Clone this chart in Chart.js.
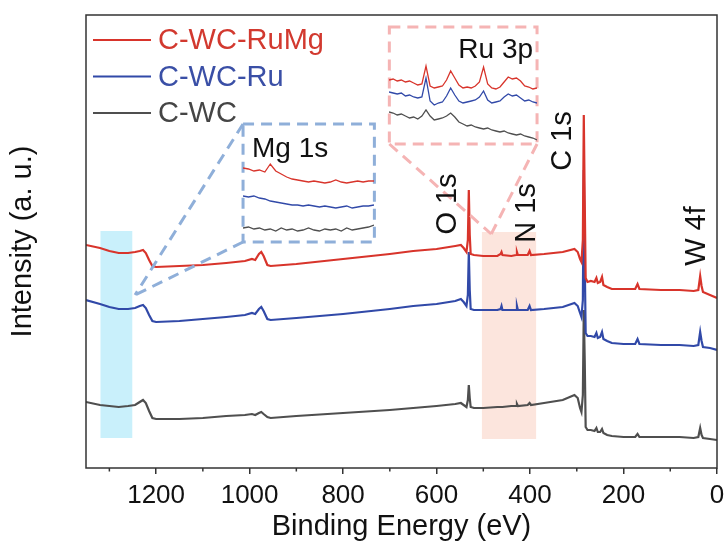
<!DOCTYPE html>
<html>
<head>
<meta charset="utf-8">
<script src="https://cdn.jsdelivr.net/npm/chart.js@4.4.1/dist/chart.umd.min.js"></script>
<style>
  body { margin: 0; background: #fff; }
  #wrap { position: relative; width: 726px; height: 543px; }
  #wrap canvas { position: absolute; left: 0; top: 0; }
</style>
</head>
<body>
<div id="wrap">
  <canvas id="survey" width="726" height="543"></canvas>
  <canvas id="mgInset"></canvas>
  <canvas id="ruInset"></canvas>
</div>
<script>
// XPS survey spectra, binding energy (eV) vs intensity (a.u., stacked)
const energy = [1350, 1320, 1300, 1280, 1260, 1245, 1235, 1228, 1222, 1215,
  1208, 1200, 1150, 1100, 1050, 1010, 995, 988, 980, 975,
  970, 962, 955, 900, 800, 700, 650, 600, 560, 548,
  542, 536, 533, 531, 529, 527, 520, 500, 470, 463,
  461, 459, 440, 430, 428, 426, 405, 401, 398, 370,
  330, 305, 298, 293, 290, 287, 285, 283, 281, 277,
  270, 262, 258, 255, 250, 246, 243, 235, 225, 200,
  175, 170, 166, 120, 80, 50, 40, 36, 33, 30,
  15, 0];

const cwcRuMg = [223, 220, 217, 215, 215, 216, 217, 218, 215, 208,
  202, 201, 202, 203, 205, 207, 209, 208, 214, 216,
  212, 203, 202, 204, 209, 214, 217, 219, 222, 223,
  220, 216, 228, 278, 233, 214, 213, 212, 212, 214,
  216, 213, 212, 213, 216, 213, 213, 217, 213, 214,
  216, 219, 216, 209, 206, 228, 353, 268, 190, 186,
  187, 186, 190, 185, 186, 191, 183, 181, 179, 179,
  179, 184, 179, 178, 178, 177, 178, 192, 182, 176,
  173, 170];

const cwcRu = [168, 164, 161, 159, 159, 160, 162, 163, 160, 153,
  147, 146, 147, 149, 151, 153, 155, 154, 159, 161,
  157, 149, 148, 150, 154, 159, 162, 164, 167, 169,
  166, 162, 173, 216, 178, 159, 158, 158, 158, 159,
  162, 158, 158, 158, 162, 158, 158, 162, 158, 159,
  161, 165, 162, 155, 151, 168, 298, 208, 135, 132,
  132, 131, 135, 130, 131, 136, 129, 127, 125, 124,
  124, 129, 124, 123, 123, 122, 123, 136, 127, 121,
  120, 118];

const cwc = [66, 63, 62, 61, 62, 63, 66, 68, 65, 57,
  50, 49, 49, 50, 52, 53, 54, 53, 55, 56,
  54, 51, 50, 52, 55, 58, 60, 62, 64, 65,
  63, 61, 68, 83, 70, 61, 60, 60, 61, 61,
  61, 61, 62, 62, 64, 62, 63, 65, 63, 65,
  68, 73, 70, 60, 56, 73, 158, 108, 41, 38,
  38, 37, 40, 36, 36, 39, 35, 33, 32, 31,
  31, 34, 31, 31, 31, 30, 31, 40, 33, 30,
  29, 28];

// Mg 1s detail scan
const mgEnergy = [1312, 1310, 1308, 1306, 1304, 1302, 1300, 1298, 1296, 1294,
  1292, 1290, 1288, 1286, 1284, 1282, 1280, 1278, 1276, 1274,
  1272, 1270, 1268, 1266, 1264];
const mgRuMg = [74, 73, 71, 72, 70, 78, 71, 68, 65, 63, 62, 61, 60, 61, 60, 59, 60, 62, 60, 59, 60, 61, 60, 61, 61];
const mgRu = [46, 45, 46, 44, 43, 41, 40, 39, 38, 37, 37, 36, 37, 36, 35, 36, 35, 34, 35, 36, 34, 35, 36, 36, 37];
const mgWc = [14, 15, 13, 14, 12, 13, 11, 14, 12, 13, 11, 12, 14, 12, 11, 13, 12, 13, 11, 14, 12, 13, 14, 15, 17];

// Ru 3p detail scan
const ruEnergy = [500, 497, 494, 491, 488, 485, 482, 479, 476, 473,
  470, 467, 464, 461, 458, 455, 452, 449, 446, 443,
  440, 437, 434, 431, 428, 425, 422, 419, 416, 413,
  410, 407, 404, 401, 398, 395, 392];
const ruRuMg = [64, 65, 63, 64, 62, 63, 61, 59, 60, 78, 58, 56, 57, 58, 64, 73, 66, 59, 56, 57,
  56, 58, 62, 77, 60, 56, 55, 57, 62, 67, 65, 66, 63, 58, 57, 55, 56];
const ruRu = [52, 51, 50, 51, 48, 49, 47, 46, 47, 66, 43, 39, 41, 42, 48, 56, 49, 43, 41, 42,
  43, 44, 47, 53, 44, 41, 42, 43, 47, 50, 48, 49, 46, 43, 44, 42, 41];
const ruWc = [32, 31, 29, 30, 28, 26, 27, 25, 28, 34, 28, 24, 25, 26, 28, 31, 27, 22, 20, 18,
  19, 17, 16, 15, 16, 14, 13, 12, 13, 11, 10, 9, 10, 8, 7, 6, 4];

const seriesNames = ['C-WC-RuMg', 'C-WC-Ru', 'C-WC'];
const colors = ['#d8342b', '#3149a8', '#4f4f4f'];
const textColors = ['#d2392f', '#3a4fa6', '#454545'];

const peakLabels = [
  { text: 'O 1s', x: 575, y: 264 },
  { text: 'N 1s', x: 406, y: 255 },
  { text: 'C 1s', x: 329, y: 327 },
  { text: 'W 4f', x: 43, y: 232 }
];

const bands = [
  { from: 1319, to: 1251, low: 30, high: 237, color: '#c9f0fb' },
  { from: 503, to: 387, low: 29, high: 236, color: '#fce5dd' }
];

const zoomBoxes = [
  { id: 'mgInset', title: 'Mg 1s', color: '#8fafd9', from: 1014, to: 733, low: 226, high: 344,
    focus: [1245, 173], corners: ['tl', 'bl'], align: 'left' },
  { id: 'ruInset', title: 'Ru 3p', color: '#f5b4b4', from: 701, to: 385, low: 324, high: 441,
    focus: [483, 234], corners: ['bl', 'br'], align: 'right' }
];

const FONT = "'Liberation Sans', Arial, sans-serif";

function boxPixels(chart, b) {
  const { x, y } = chart.scales;
  const l = x.getPixelForValue(b.from), r = x.getPixelForValue(b.to);
  const t = y.getPixelForValue(b.high), bt = y.getPixelForValue(b.low);
  return { l: Math.min(l, r), r: Math.max(l, r), t: t, b: bt };
}

const decor = {
  id: 'decor',
  beforeDatasetsDraw(chart) {
    const ctx = chart.ctx;
    ctx.save();
    bands.forEach(b => {
      const p = boxPixels(chart, b);
      ctx.fillStyle = b.color;
      ctx.fillRect(p.l, p.t, p.r - p.l, p.b - p.t);
    });
    ctx.restore();
  },
  afterDatasetsDraw(chart) {
    const ctx = chart.ctx;
    const { x, y } = chart.scales;
    const area = chart.chartArea;
    ctx.save();

    // dashed zoom boxes and their connector lines
    zoomBoxes.forEach(b => {
      const p = boxPixels(chart, b);
      ctx.strokeStyle = b.color;
      ctx.lineWidth = 3;
      ctx.setLineDash([11, 7]);
      ctx.strokeRect(p.l, p.t, p.r - p.l, p.b - p.t);
      const fx = x.getPixelForValue(b.focus[0]), fy = y.getPixelForValue(b.focus[1]);
      const pts = { tl: [p.l, p.t], bl: [p.l, p.b], br: [p.r, p.b] };
      b.corners.forEach(c => {
        ctx.beginPath();
        ctx.moveTo(pts[c][0], pts[c][1]);
        ctx.lineTo(fx, fy);
        ctx.stroke();
      });
      ctx.setLineDash([]);
      ctx.fillStyle = '#111';
      ctx.font = '28px ' + FONT;
      ctx.textBaseline = 'alphabetic';
      if (b.align === 'left') {
        ctx.textAlign = 'left';
        ctx.fillText(b.title, p.l + 9, p.t + 33);
      } else {
        ctx.textAlign = 'right';
        ctx.fillText(b.title, p.r - 4, p.t + 31);
      }
    });

    // rotated peak assignments
    ctx.font = '29px ' + FONT;
    ctx.fillStyle = '#111';
    ctx.textAlign = 'center';
    ctx.textBaseline = 'middle';
    peakLabels.forEach(l => {
      ctx.save();
      ctx.translate(x.getPixelForValue(l.x), y.getPixelForValue(l.y));
      ctx.rotate(-Math.PI / 2);
      ctx.fillText(l.text, 0, 0);
      ctx.restore();
    });

    // legend in the upper left corner
    ctx.font = '29px ' + FONT;
    ctx.textAlign = 'left';
    ctx.textBaseline = 'middle';
    seriesNames.forEach((name, i) => {
      const ly = area.top + 25 + i * 36.5;
      ctx.strokeStyle = colors[i];
      ctx.lineWidth = 2;
      ctx.beginPath();
      ctx.moveTo(area.left + 7, ly);
      ctx.lineTo(area.left + 65, ly);
      ctx.stroke();
      ctx.fillStyle = textColors[i];
      ctx.fillText(name, area.left + 72, ly + 1);
    });
    ctx.restore();
  },
  afterDraw(chart) {
    const ctx = chart.ctx;
    const { x } = chart.scales;
    const a = chart.chartArea;
    ctx.save();
    ctx.strokeStyle = '#333';
    ctx.lineWidth = 1.5;
    ctx.strokeRect(a.left, a.top, a.right - a.left, a.bottom - a.top);
    // minor ticks halfway between the labelled ones
    for (let v = 100; v < 1350; v += 200) {
      const px = x.getPixelForValue(v);
      ctx.beginPath();
      ctx.moveTo(px, a.bottom);
      ctx.lineTo(px, a.bottom + 3.5);
      ctx.stroke();
    }
    ctx.restore();
  }
};

const survey = new Chart(document.getElementById('survey'), {
  type: 'line',
  data: {
    labels: energy,
    datasets: [cwcRuMg, cwcRu, cwc].map((vals, i) => ({
      label: seriesNames[i],
      data: energy.map((e, k) => ({ x: e, y: vals[k] })),
      borderColor: colors[i],
      borderWidth: 2.2,
      pointRadius: 0,
      tension: 0
    }))
  },
  options: {
    responsive: false,
    animation: false,
    devicePixelRatio: 1,
    layout: { padding: { top: 15, right: 9, left: 0, bottom: 0 } },
    plugins: { legend: { display: false }, tooltip: { enabled: false } },
    scales: {
      x: {
        type: 'linear',
        reverse: true,
        min: 0,
        max: 1350,
        afterFit(s) {
          s.height = 75;
          s.paddingLeft = 0;
          s.paddingRight = 0;
        },
        border: { display: false },
        grid: { drawOnChartArea: false, drawTicks: true, tickLength: 6, tickColor: '#333', lineWidth: 1.5 },
        ticks: { stepSize: 200, includeBounds: false, color: '#111', padding: 9, maxRotation: 0,
          callback: v => String(v),
          font: { family: FONT, size: 26, lineHeight: 1 } },
        title: { display: true, text: 'Binding Energy (eV)', color: '#111',
          padding: { top: 0, bottom: 2 }, font: { family: FONT, size: 29, lineHeight: 1 } }
      },
      y: {
        min: 0,
        max: 453,
        afterFit(s) { s.width = 86; },
        border: { display: false },
        grid: { display: false },
        ticks: { display: false },
        title: { display: true, text: 'Intensity (a. u.)', color: '#111',
          padding: { top: 8, bottom: 0 }, font: { family: FONT, size: 29, lineHeight: 1 } }
      }
    }
  },
  plugins: [decor]
});

// small detail plots placed inside the dashed boxes
function inset(box, xs, series) {
  const p = boxPixels(survey, box);
  const cv = document.getElementById(box.id);
  cv.width = Math.round(p.r - p.l);
  cv.height = Math.round(p.b - p.t);
  cv.style.left = Math.round(p.l) + 'px';
  cv.style.top = Math.round(p.t) + 'px';
  new Chart(cv, {
    type: 'line',
    data: {
      datasets: series.map((vals, i) => ({
        data: xs.map((e, k) => ({ x: e, y: vals[k] })),
        borderColor: colors[i],
        borderWidth: 1.3,
        pointRadius: 0,
        tension: 0
      }))
    },
    options: {
      responsive: false,
      animation: false,
      devicePixelRatio: 1,
      layout: { padding: 0 },
      plugins: { legend: { display: false }, tooltip: { enabled: false } },
      scales: {
        x: { type: 'linear', display: false, reverse: true,
          min: Math.min(...xs), max: Math.max(...xs) },
        y: { display: false, min: 0, max: box.high - box.low }
      }
    }
  });
}

inset(zoomBoxes[0], mgEnergy, [mgRuMg, mgRu, mgWc]);
inset(zoomBoxes[1], ruEnergy, [ruRuMg, ruRu, ruWc]);
</script>
</body>
</html>
